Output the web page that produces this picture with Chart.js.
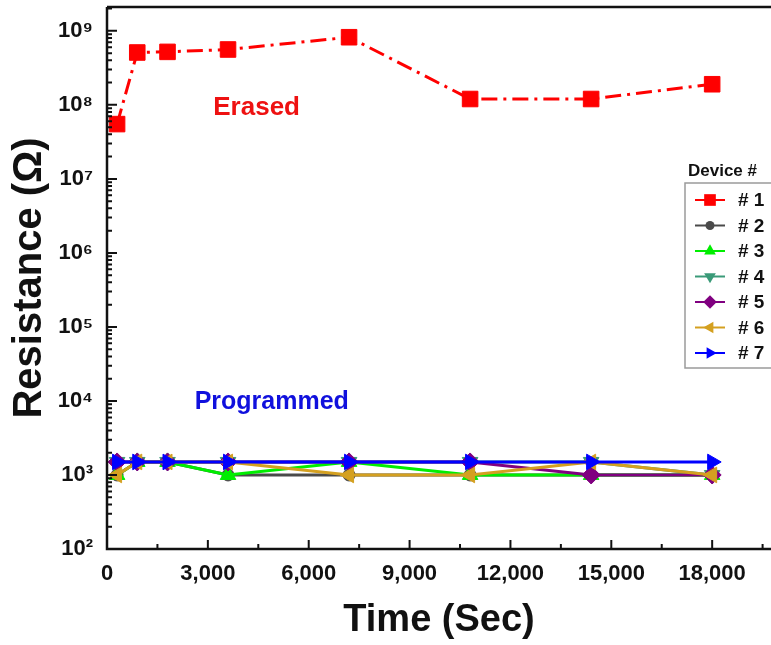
<!DOCTYPE html>
<html>
<head>
<meta charset="utf-8">
<script src="https://cdn.jsdelivr.net/npm/chart.js@4/dist/chart.umd.min.js"></script>
<style>
  html, body { margin: 0; padding: 0; background: #fff; overflow: hidden; }
  #wrap { width: 771px; height: 645px; }
</style>
</head>
<body>
<div id="wrap"><canvas id="chart"></canvas></div>
<script>
// time points (s)
var times = [300, 900, 1800, 3600, 7200, 10800, 14400, 18000];
// resistance per device (ohm)
var dev1 = [5.5e7, 5.1e8, 5.2e8, 5.6e8, 8.2e8, 1.2e8, 1.2e8, 1.9e8];
var dev2 = [1.0e3, 1.5e3, 1.5e3, 1.0e3, 1.0e3, 1.0e3, 1.0e3, 1.0e3];
var dev3 = [1.0e3, 1.5e3, 1.5e3, 1.0e3, 1.5e3, 1.0e3, 1.0e3, 1.0e3];
var dev4 = [1.5e3, 1.5e3, 1.5e3, 1.5e3, 1.5e3, 1.5e3, 1.5e3, 1.0e3];
var dev5 = [1.5e3, 1.5e3, 1.5e3, 1.5e3, 1.5e3, 1.5e3, 1.0e3, 1.0e3];
var dev6 = [1.0e3, 1.5e3, 1.5e3, 1.5e3, 1.0e3, 1.0e3, 1.5e3, 1.0e3];
var dev7 = [1.5e3, 1.5e3, 1.5e3, 1.5e3, 1.5e3, 1.5e3, 1.5e3, 1.5e3];
var deviceLabels = ["# 1", "# 2", "# 3", "# 4", "# 5", "# 6", "# 7"];
// axis ticks
var xTicks = [0, 3000, 6000, 9000, 12000, 15000, 18000];
var yTicks = [1e2, 1e3, 1e4, 1e5, 1e6, 1e7, 1e8, 1e9];

var FONT = "'Liberation Sans', Arial, sans-serif";
var sup = ["\u2070", "\u00b9", "\u00b2", "\u00b3", "\u2074", "\u2075", "\u2076", "\u2077", "\u2078", "\u2079"];

function pts(vals) {
  return vals.map(function (v, i) { return { x: times[i], y: v }; });
}

var styles = [
  { c: "#ff0000", ps: "rect", r: 11, rot: 0, dash: [16, 6, 3, 6] },
  { c: "#4a4a4a", ps: "circle", r: 6, rot: 0, dash: [] },
  { c: "#00ee00", ps: "triangle", r: 9, rot: 0, dash: [] },
  { c: "#3a9a78", ps: "triangle", r: 9, rot: 180, dash: [] },
  { c: "#800080", ps: "rectRot", r: 9, rot: 0, dash: [] },
  { c: "#d4a020", ps: "triangle", r: 9, rot: 270, dash: [] },
  { c: "#0000ff", ps: "triangle", r: 9, rot: 90, dash: [] }
];
var series = [dev1, dev2, dev3, dev4, dev5, dev6, dev7];

var datasets = series.map(function (vals, i) {
  var s = styles[i];
  return {
    label: deviceLabels[i],
    data: pts(vals),
    borderColor: s.c,
    backgroundColor: s.c,
    borderWidth: 3,
    borderDash: s.dash,
    pointStyle: s.ps,
    pointRadius: s.r,
    pointRotation: s.rot,
    pointBorderWidth: 1,
    tension: 0,
    order: 7 - i
  };
});

var frame = {
  id: "frame",
  afterDraw: function (chart) {
    var ctx = chart.ctx, a = chart.chartArea;
    var xs = chart.scales.x, ys = chart.scales.y;
    ctx.save();
    ctx.strokeStyle = "#111";
    ctx.lineWidth = 2.5;
    ctx.beginPath();
    ctx.moveTo(a.left, a.top);
    ctx.lineTo(a.left, a.bottom);
    ctx.lineTo(a.right, a.bottom);
    ctx.moveTo(a.left, a.top);
    ctx.lineTo(a.right, a.top);
    ctx.stroke();
    ctx.lineWidth = 2;
    ctx.beginPath();
    // x ticks: majors plus a minor half way
    for (var v = 0; v <= xs.max; v += 1500) {
      var px = xs.getPixelForValue(v);
      var len = (v % 3000 === 0) ? 9 : 5;
      ctx.moveTo(px, a.bottom);
      ctx.lineTo(px, a.bottom - len);
    }
    // y ticks: decades plus 2..9 minors
    yTicks.forEach(function (d) {
      for (var m = 1; m <= 9; m++) {
        var val = m * d;
        if (val > ys.max) break;
        var py = ys.getPixelForValue(val);
        var l = (m === 1) ? 10 : 5;
        ctx.moveTo(a.left, py);
        ctx.lineTo(a.left + l, py);
      }
    });
    ctx.stroke();

    // annotations
    ctx.font = "bold 26px " + FONT;
    ctx.textAlign = "center";
    ctx.textBaseline = "middle";
    ctx.fillStyle = "#ee1111";
    ctx.fillText("Erased", xs.getPixelForValue(4450), ys.getPixelForValue(9.0e7));
    ctx.fillStyle = "#1010dd";
    ctx.font = "bold 25px " + FONT;
    ctx.fillText("Programmed", xs.getPixelForValue(4900), ys.getPixelForValue(0.95e4));

    // legend
    var lx = 685, ly = 183, lh = 25.5;
    ctx.fillStyle = "#111";
    ctx.font = "bold 17px " + FONT;
    ctx.textAlign = "left";
    ctx.fillText("Device #", 688, 171);
    ctx.strokeStyle = "#9a9a9a";
    ctx.lineWidth = 1.5;
    ctx.strokeRect(lx, ly, 100, 185);
    chart.data.datasets.forEach(function (ds, i) {
      var y = 200 + i * lh;
      ctx.strokeStyle = ds.borderColor;
      ctx.lineWidth = 2;
      ctx.setLineDash([]);
      ctx.beginPath();
      ctx.moveTo(695, y);
      ctx.lineTo(725, y);
      ctx.stroke();
      ctx.fillStyle = ds.backgroundColor;
      Chart.helpers.drawPoint(ctx, {
        pointStyle: ds.pointStyle,
        rotation: ds.pointRotation,
        radius: ds.pointRadius * 0.75,
        borderWidth: 0
      }, 710, y);
      ctx.fillStyle = "#111";
      ctx.font = "bold 19px " + FONT;
      ctx.fillText(ds.label, 738, y + 1);
    });
    ctx.restore();
  }
};

new Chart(document.getElementById("chart"), {
  type: "line",
  data: { datasets: datasets },
  plugins: [frame],
  options: {
    responsive: true,
    maintainAspectRatio: false,
    animation: false,
    layout: { autoPadding: false, padding: { top: 7, right: 0, left: 0, bottom: 0 } },
    plugins: { legend: { display: false }, tooltip: { enabled: false } },
    scales: {
      x: {
        type: "linear",
        min: 0,
        max: 19750,
        grid: { display: false, drawTicks: false },
        border: { display: false },
        afterBuildTicks: function (s) {
          s.ticks = xTicks.map(function (v) { return { value: v }; });
        },
        ticks: {
          autoSkip: false,
          maxRotation: 0,
          padding: 12,
          color: "#111",
          font: { family: FONT, size: 22, weight: "bold" },
          callback: function (v) { return v.toLocaleString("en-US"); }
        },
        title: {
          display: true,
          text: "Time (Sec)",
          color: "#111",
          font: { family: FONT, size: 38, weight: "bold" },
          padding: { top: 0, bottom: 2 }
        },
        afterFit: function (s) {
          s.height = 96;
          s.paddingLeft = 0;
          s.paddingRight = 0;
        }
      },
      y: {
        type: "logarithmic",
        min: 100,
        max: 2.1e9,
        grid: { display: false, drawTicks: false },
        border: { display: false },
        afterBuildTicks: function (s) {
          s.ticks = yTicks.map(function (v) { return { value: v, major: true }; });
        },
        ticks: {
          autoSkip: false,
          padding: 14,
          color: "#111",
          font: { family: FONT, size: 22, weight: "bold" },
          callback: function (v) {
            return "10" + sup[Math.round(Math.log10(v))];
          }
        },
        title: {
          display: true,
          text: "Resistance (\u03a9)",
          color: "#111",
          font: { family: FONT, size: 40, weight: "bold" },
          padding: { top: 6, bottom: 0 }
        },
        afterFit: function (s) {
          s.width = 107;
          s.paddingTop = 0;
          s.paddingBottom = 0;
        }
      }
    }
  }
});
</script>
</body>
</html>
